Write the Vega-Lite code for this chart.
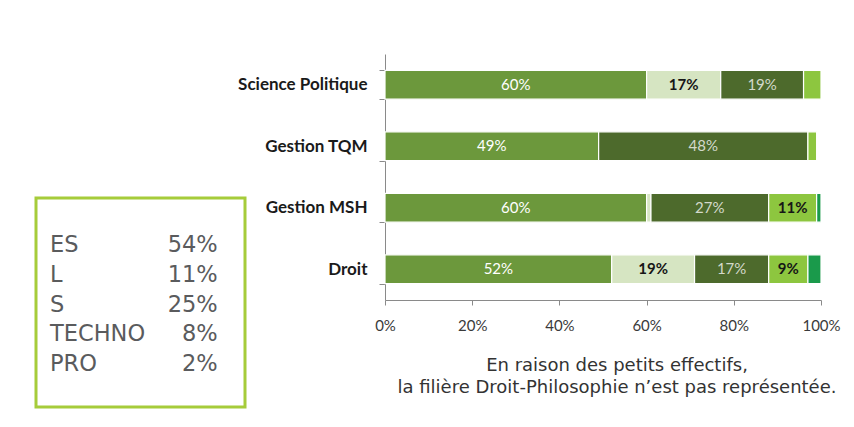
{
  "$schema": "https://vega.github.io/schema/vega-lite/v6.json",
  "padding": {"left": 34, "top": 45, "right": 0, "bottom": 0},
  "background": "white",
  "spacing": -10,
  "config": {"view": {"stroke": null}, "font": "Lato"},
  "hconcat": [
    {
      "spacing": 0,
      "bounds": "flush",
      "vconcat": [
        {
          "width": 209,
          "height": 144,
          "view": {"stroke": null},
          "data": {"values": [{}]},
          "mark": {"type": "text", "text": ""},
          "encoding": {}
        },
        {
          "width": 209,
          "height": 209,
          "view": {"stroke": "#a6cc3a", "strokeWidth": 3, "fill": "white"},
          "data": {"values": [
            {"serie": "ES", "part": 54},
            {"serie": "L", "part": 11},
            {"serie": "S", "part": 25},
            {"serie": "TECHNO", "part": 8},
            {"serie": "PRO", "part": 2}
          ]},
          "encoding": {
            "y": {"field": "serie", "type": "nominal", "sort": ["ES", "L", "S", "TECHNO", "PRO"],
                  "scale": {"type": "band", "paddingInner": 0, "paddingOuter": 1}, "axis": null}
          },
          "layer": [
            {
              "mark": {"type": "text", "align": "left", "dy": 2, "font": "DejaVu Sans", "fontSize": 22.5, "color": "#5a5b5d"},
              "encoding": {
                "x": {"datum": "nom", "type": "nominal",
                      "scale": {"type": "point", "domain": ["nom", "val"], "padding": 0.123, "align": 0.339}, "axis": null},
                "text": {"field": "serie"}
              }
            },
            {
              "transform": [{"calculate": "datum.part + '%'", "as": "lab"}],
              "mark": {"type": "text", "align": "right", "dy": 2, "font": "DejaVu Sans", "fontSize": 22.5, "color": "#5a5b5d"},
              "encoding": {
                "x": {"datum": "val", "type": "nominal"},
                "text": {"field": "lab"}
              }
            }
          ]
        }
      ]
    },
    {
      "width": 436,
      "height": 246,
      "title": {
        "text": ["En raison des petits effectifs,", "la filière Droit-Philosophie n’est pas représentée."],
        "orient": "bottom", "anchor": "middle", "font": "DejaVu Sans", "fontSize": 18, "fontWeight": "normal",
        "color": "#333333", "lineHeight": 22, "offset": 24, "dx": 14
      },
      "data": {"values": [
        {"filiere": "Science Politique", "serie": "ES", "pct": 60},
        {"filiere": "Science Politique", "serie": "L", "pct": 17},
        {"filiere": "Science Politique", "serie": "S", "pct": 19},
        {"filiere": "Science Politique", "serie": "TECHNO", "pct": 4},
        {"filiere": "Gestion TQM", "serie": "ES", "pct": 49},
        {"filiere": "Gestion TQM", "serie": "S", "pct": 48},
        {"filiere": "Gestion TQM", "serie": "TECHNO", "pct": 2},
        {"filiere": "Gestion MSH", "serie": "ES", "pct": 60},
        {"filiere": "Gestion MSH", "serie": "L", "pct": 1},
        {"filiere": "Gestion MSH", "serie": "S", "pct": 27},
        {"filiere": "Gestion MSH", "serie": "TECHNO", "pct": 11},
        {"filiere": "Gestion MSH", "serie": "PRO", "pct": 1},
        {"filiere": "Droit", "serie": "ES", "pct": 52},
        {"filiere": "Droit", "serie": "L", "pct": 19},
        {"filiere": "Droit", "serie": "S", "pct": 17},
        {"filiere": "Droit", "serie": "TECHNO", "pct": 9},
        {"filiere": "Droit", "serie": "PRO", "pct": 3}
      ]},
      "transform": [
        {"calculate": "indexof(['ES','L','S','TECHNO','PRO'], datum.serie)", "as": "ordre"},
        {"stack": "pct", "groupby": ["filiere"], "sort": [{"field": "ordre", "order": "ascending"}], "as": ["x0", "x1"]},
        {"calculate": "(datum.x0 + datum.x1) / 2", "as": "xm"},
        {"calculate": "datum.pct + '%'", "as": "lab"}
      ],
      "encoding": {
        "y": {
          "field": "filiere", "type": "nominal",
          "sort": ["Science Politique", "Gestion TQM", "Gestion MSH", "Droit"],
          "scale": {"paddingInner": 0.53, "paddingOuter": 0.265},
          "axis": {
            "title": null, "tickBand": "extent", "tickSize": 6, "labelPadding": 12,
            "domainColor": "#8a8a8a", "tickColor": "#8a8a8a",
            "labelFont": "Lato", "labelFontWeight": "bold", "labelFontSize": 17, "labelColor": "#1a1a1a"
          }
        }
      },
      "layer": [
        {
          "mark": {"type": "bar", "stroke": "white", "strokeWidth": 1.2},
          "encoding": {
            "x": {
              "field": "x0", "type": "quantitative",
              "scale": {"domain": [0, 100], "nice": false},
              "axis": {
                "title": null, "values": [0, 20, 40, 60, 80, 100], "labelExpr": "datum.value + '%'",
                "grid": false, "tickSize": 5, "labelPadding": 13, "labelFlush": false,
                "domainColor": "#8a8a8a", "tickColor": "#8a8a8a",
                "labelFont": "Lato", "labelFontSize": 15, "labelColor": "#3a3a3a"
              }
            },
            "x2": {"field": "x1"},
            "color": {
              "field": "serie", "type": "nominal",
              "scale": {"domain": ["ES", "L", "S", "TECHNO", "PRO"],
                        "range": ["#6c983c", "#d6e5c2", "#4d6a2c", "#8dc63f", "#1a9a4b"]},
              "legend": null
            }
          }
        },
        {
          "transform": [{"filter": "datum.pct >= 9 && (datum.serie == 'ES' || datum.serie == 'S')"}],
          "mark": {"type": "text", "font": "Lato", "fontSize": 15},
          "encoding": {
            "x": {"field": "xm", "type": "quantitative"},
            "text": {"field": "lab"},
            "color": {"condition": {"test": "datum.serie == 'ES'", "value": "#ffffff"}, "value": "#d3d9cb"}
          }
        },
        {
          "transform": [{"filter": "datum.pct >= 9 && (datum.serie == 'L' || datum.serie == 'TECHNO')"}],
          "mark": {"type": "text", "font": "Lato", "fontSize": 15, "fontWeight": "bold", "color": "#161616"},
          "encoding": {
            "x": {"field": "xm", "type": "quantitative"},
            "text": {"field": "lab"}
          }
        }
      ]
    }
  ]
}
